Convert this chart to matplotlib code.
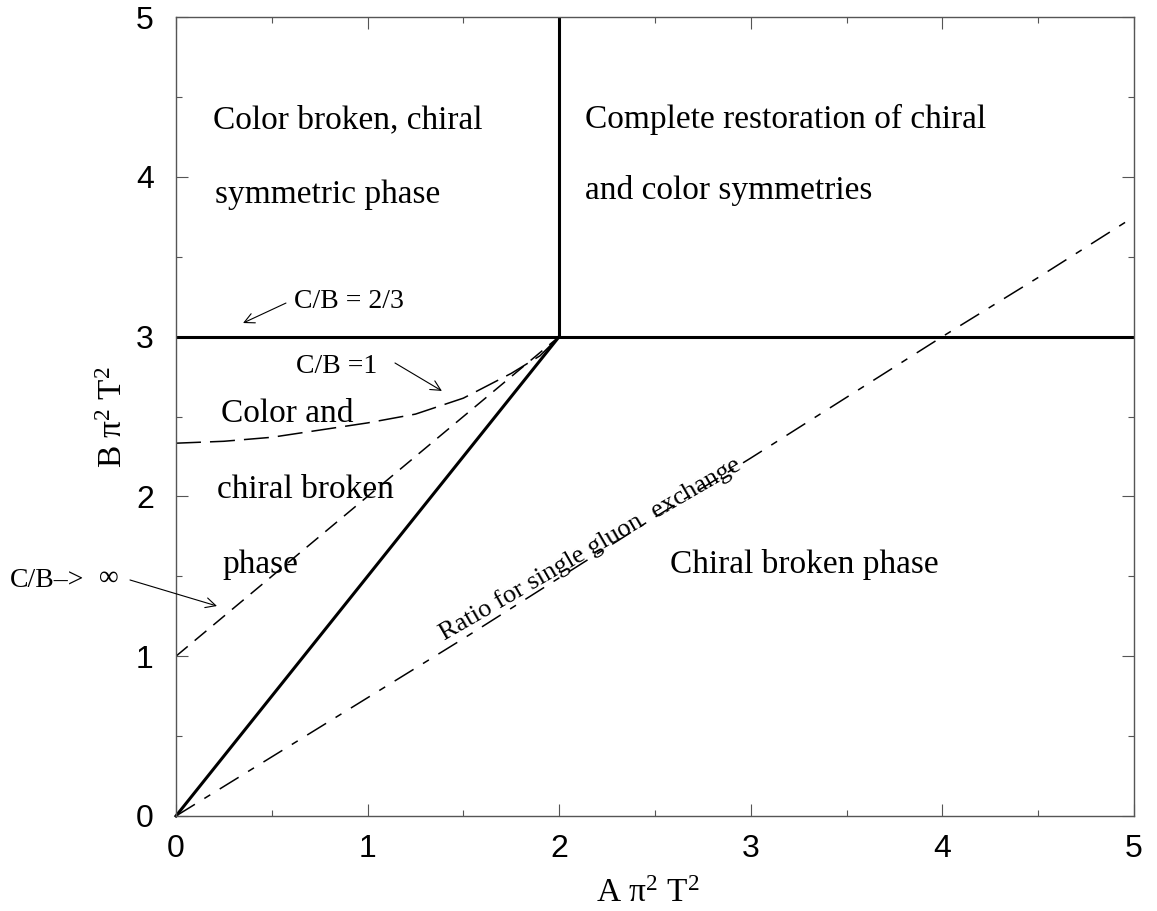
import matplotlib
matplotlib.use("Agg")
import matplotlib.pyplot as plt
from matplotlib.ticker import MultipleLocator

plt.rcParams["mathtext.fontset"] = "custom"
plt.rcParams["mathtext.rm"] = "Liberation Serif"
plt.rcParams["mathtext.it"] = "Liberation Serif:italic"
plt.rcParams["lines.scale_dashes"] = False

SERIF = "Liberation Serif"
SANS = "Liberation Sans"

# phase boundaries (solid)
horiz_x = [0.0, 5.0]
horiz_y = [3.0, 3.0]
vert_x = [2.0, 2.0]
vert_y = [3.0, 5.0]
diag_x = [0.0, 2.0]
diag_y = [0.0, 3.0]

# C/B -> infinity (short dashes)
cb_inf_x = [0.0, 2.0]
cb_inf_y = [1.0, 3.0]

# C/B = 1 (long dashes)
cb_one_x = [0.0, 0.25, 0.5, 0.75, 1.0, 1.25, 1.5, 1.75, 1.9, 2.0]
cb_one_y = [2.333, 2.345, 2.37, 2.415, 2.46, 2.515, 2.615, 2.77, 2.88, 3.0]

# ratio for single gluon exchange (dash-dot)
gluon_x = [0.0, 0.5, 1.0, 1.5, 2.0, 2.5, 3.0, 3.5, 4.0, 4.5, 5.0]
gluon_y = [0.0, 0.37, 0.74, 1.11, 1.49, 1.87, 2.24, 2.62, 3.0, 3.37, 3.75]

ticks = [0, 1, 2, 3, 4, 5]

fig = plt.figure(figsize=(11.57, 9.11), dpi=100)
ax = fig.add_axes([0.1521, 0.1043, 0.828, 0.877])

ax.plot(horiz_x, horiz_y, color="black", lw=2.2, clip_on=False, solid_capstyle="butt")
ax.plot(vert_x, vert_y, color="black", lw=2.2, clip_on=False, solid_capstyle="butt")
ax.plot(diag_x, diag_y, color="black", lw=2.2, clip_on=False)
ax.plot(cb_inf_x, cb_inf_y, color="black", lw=1.1, linestyle=(0, (11, 6.5)))
ax.plot(cb_one_x, cb_one_y, color="black", lw=1.1, linestyle=(0, (18, 6.5)))
ax.plot(gluon_x, gluon_y, color="black", lw=1.1, linestyle=(0, (16, 8, 5, 8)))

ax.set_xlim(0, 5)
ax.set_ylim(0, 5)
ax.set_xticks(ticks)
ax.set_yticks(ticks)
ax.xaxis.set_minor_locator(MultipleLocator(0.5))
ax.yaxis.set_minor_locator(MultipleLocator(0.5))
ax.tick_params(which="both", direction="in", top=True, right=True, color="#555555", width=0.8)
ax.tick_params(which="major", length=8.6)
ax.tick_params(which="minor", length=4.3)
ax.tick_params(axis="x", which="major", pad=13)
ax.tick_params(axis="y", which="major", pad=16)
for lab in ax.get_xticklabels() + ax.get_yticklabels():
    lab.set_fontfamily(SANS)
    lab.set_fontsize(23)
for sp in ax.spines.values():
    sp.set_color("#555555")
    sp.set_linewidth(1.0)

ax.set_xlabel(r"A $\mathrm{\pi}^2$ T$^2$", fontsize=24, fontfamily=SERIF)
ax.xaxis.set_label_coords(0.492, -0.1076)
ax.xaxis.label.set_verticalalignment("baseline")
ax.set_ylabel(r"B $\mathrm{\pi}^2$ T$^2$", fontsize=24, fontfamily=SERIF)
ax.yaxis.set_label_coords(-0.0564, 0.499)
ax.yaxis.label.set_verticalalignment("baseline")

big = dict(fontsize=24, fontfamily=SERIF, ha="left", va="baseline")
small = dict(fontsize=20, fontfamily=SERIF, ha="left", va="baseline")

ax.text(0.193, 4.305, "Color broken, chiral", **big)
ax.text(0.204, 3.836, "symmetric phase", **big)
ax.text(2.135, 4.305, "Complete restoration of chiral", **big)
ax.text(2.135, 3.86, "and color symmetries", **big)
ax.text(0.235, 2.466, "Color and", **big)
ax.text(0.214, 1.990, "chiral broken", **big)
ax.text(0.240, 1.521, "phase", **big)
ax.text(2.578, 1.521, "Chiral broken phase", **big)

ax.text(0.616, 3.179, "C/B = 2/3", **small)
ax.text(0.626, 2.772, "C/B =1", **small)
ax.text(-0.866, 1.433, "C/B\u2013>", clip_on=False, **small)
ax.text(-0.350, 1.489, "\u221e", fontsize=20, fontfamily=SERIF, ha="center", va="center", clip_on=False)
ax.text(1.40, 1.10, "Ratio for single gluon  exchange", fontsize=19, fontfamily=SERIF,
        ha="left", va="baseline", rotation=30.0, rotation_mode="anchor")

arrow = dict(arrowstyle="->,head_length=0.6,head_width=0.3", lw=0.8, color="black",
             shrinkA=0, shrinkB=0, mutation_scale=12)
ax.annotate("", xy=(0.350, 3.085), xytext=(0.574, 3.210), arrowprops=arrow)
ax.annotate("", xy=(1.388, 2.660), xytext=(1.143, 2.835), arrowprops=arrow)
ax.annotate("", xy=(0.214, 1.314), xytext=(-0.240, 1.477), arrowprops=arrow, annotation_clip=False)

fig.savefig("out.png", dpi=100)
